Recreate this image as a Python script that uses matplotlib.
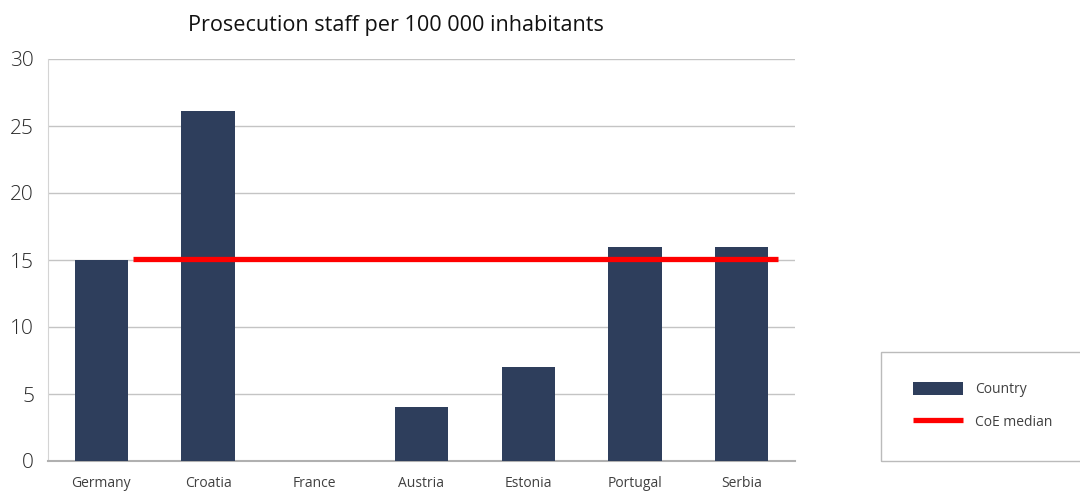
import matplotlib
matplotlib.use("Agg")
import matplotlib.pyplot as plt
from matplotlib.patches import Rectangle, Patch
from matplotlib.lines import Line2D

countries = ["Germany", "Croatia", "France", "Austria", "Estonia", "Portugal", "Serbia"]
values = [15.0, 26.1, 0.0, 4.0, 7.0, 16.0, 16.0]
median_value = 15.1
median_span = [0.3, 6.34]
yticks = [0, 5, 10, 15, 20, 25, 30]
title = "Prosecution staff per 100 000 inhabitants"

plt.rcParams['font.family'] = ['Open Sans', 'DejaVu Sans']

fig = plt.figure(figsize=(10.8, 4.93), dpi=100)
ax = fig.add_axes([48/1080, 32/493, (795-48)/1080, (461-59)/493])

bar_color = "#2e3e5c"
x = list(range(len(countries)))
ax.bar(x, values, width=0.5, color=bar_color, zorder=3)
ax.plot(median_span, [median_value, median_value], color="#ff0000", lw=3.8,
        solid_capstyle='butt', zorder=4)

ax.set_xlim(-0.5, len(countries) - 0.5)
ax.set_ylim(0, 30)
ax.set_yticks(yticks)
ax.set_yticklabels([str(t) for t in yticks], fontsize=15, color="#2a2a2a", fontweight='light')
ax.set_xticks(x)
ax.set_xticklabels(countries, fontsize=10, color="#404040")
ax.tick_params(axis='both', length=0)
ax.tick_params(axis='y', pad=10)
ax.tick_params(axis='x', pad=11)
ax.grid(axis='y', color="#c4c4c4", lw=1, zorder=0)
ax.set_axisbelow(True)
for s in ["top", "right"]:
    ax.spines[s].set_visible(False)
ax.spines["left"].set_color("#d4d4d4")
ax.spines["bottom"].set_color("#b0b0b0")
ax.spines["bottom"].set_linewidth(1.5)

fig.text(396/1080, 1 - 25/493, title, ha='center', va='center', fontsize=15.6, color="#111111")

# legend box
fig.patches.append(Rectangle((881/1080, 32/493), 0.3, (461-352)/493, transform=fig.transFigure,
                             fill=False, edgecolor="#bbbbbb", lw=1))
handles = [Patch(facecolor=bar_color, edgecolor='none'),
           Line2D([0], [0], color="#ff0000", lw=3.8, solid_capstyle='butt')]
leg = fig.legend(handles, ["Country", "CoE median"], loc='upper left',
                 bbox_to_anchor=(913/1080, 1 - 382/493), frameon=False, fontsize=10,
                 handlelength=3.6, handleheight=1.05, handletextpad=0.86, borderpad=0,
                 borderaxespad=0, labelspacing=1.25, labelcolor="#404040")

fig.savefig("out.png", dpi=100)
